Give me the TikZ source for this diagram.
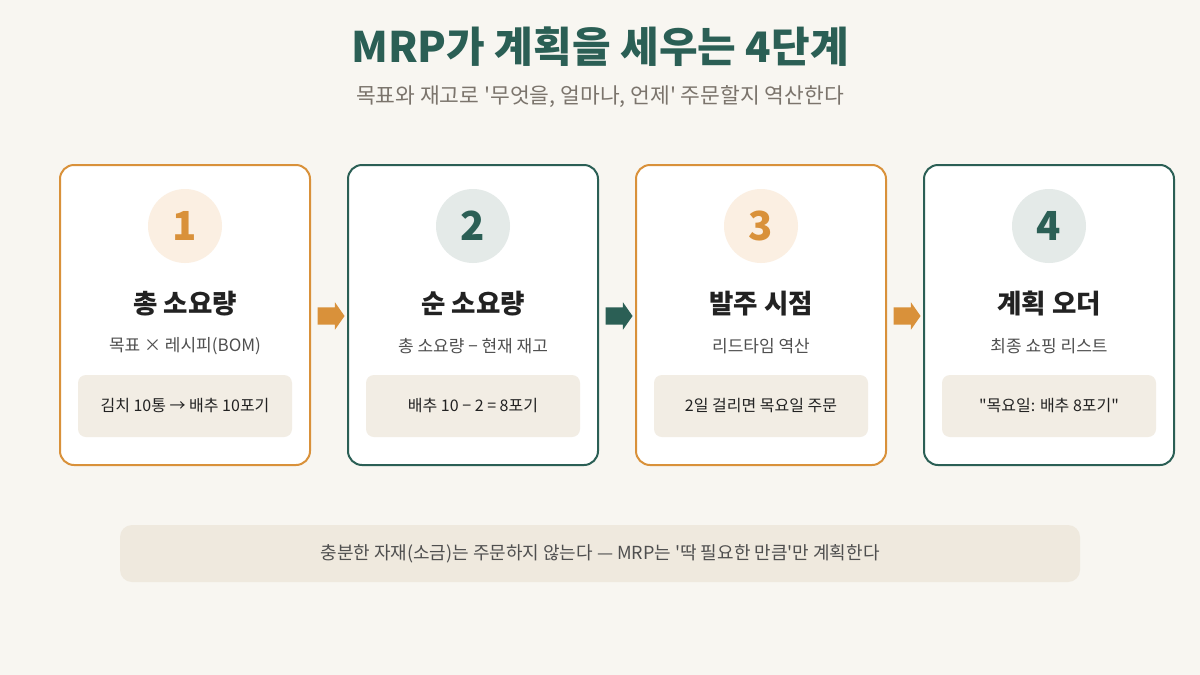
\documentclass[tikz,border=0pt]{standalone}
\usepackage{fontspec}
\setmainfont{Noto Sans CJK KR}[Ligatures=TeXOff]
\usetikzlibrary{shapes.arrows}
\definecolor{paper}{HTML}{F8F6F1}
\definecolor{amber}{HTML}{D9913A}
\definecolor{amberlight}{HTML}{FBEFE2}
\definecolor{pine}{HTML}{2B5F55}
\definecolor{pinelight}{HTML}{E4EAE8}
\definecolor{boxtan}{HTML}{F2EDE4}
\definecolor{bandtan}{HTML}{EFE9DE}
\definecolor{inkdark}{HTML}{222222}
\definecolor{inkgrey}{HTML}{4F4F4F}
\definecolor{inksoft}{HTML}{7B746C}
\begin{document}
\begin{tikzpicture}[x=1pt, y=-1pt,
    card/.style={draw, line width=2pt, rounded corners=14pt, fill=white, minimum width=250pt, minimum height=300pt},
    badge/.style={circle, inner sep=0pt, minimum size=74pt, font=\fontsize{40}{44}\selectfont\bfseries},
    cardtitle/.style={inner sep=0pt, text=inkdark, font=\fontsize{26.5}{30}\selectfont\bfseries},
    cardsub/.style={inner sep=0pt, text=inkgrey, font=\fontsize{17}{20}\selectfont},
    samplebox/.style={fill=boxtan, rounded corners=8pt, minimum width=214pt, minimum height=62pt, text=inkdark, font=\fontsize{16}{19}\selectfont},
    stepgo/.style={single arrow, inner sep=8.5pt, minimum width=27pt, minimum height=27pt, single arrow head extend=5pt, single arrow tip angle=110}]
    \fill[paper] (0,0) rectangle (1200,675);
    \useasboundingbox (0,0) rectangle (1200,675);

    \node[inner sep=0pt, text=pine, font=\fontsize{42}{48}\selectfont\bfseries] (title) at (600,47) {MRP가 계획을 세우는 4단계};
    \node[inner sep=0pt, text=inksoft, font=\fontsize{21.5}{25}\selectfont] (subtitle) at (600,97) {목표와 재고로 '무엇을, 얼마나, 언제' 주문할지 역산한다};

    \node[card, draw=amber] (c1) at (185,315) {};
    \node[card, draw=pine] (c2) at (473,315) {};
    \node[card, draw=amber] (c3) at (761,315) {};
    \node[card, draw=pine] (c4) at (1049,315) {};

    \node[badge, fill=amberlight, text=amber] (b1) at (185,226) {1};
    \node[badge, fill=pinelight, text=pine] (b2) at (473,226) {2};
    \node[badge, fill=amberlight, text=amber] (b3) at (761,226) {3};
    \node[badge, fill=pinelight, text=pine] (b4) at (1049,226) {4};

    \node[cardtitle] (t1) at (185,304) {총 소요량};
    \node[cardtitle] (t2) at (473,304) {순 소요량};
    \node[cardtitle] (t3) at (761,304) {발주 시점};
    \node[cardtitle] (t4) at (1049,304) {계획 오더};

    \node[cardsub] (s1) at (185,346) {목표 × 레시피(BOM)};
    \node[cardsub] (s2) at (473,346) {총 소요량 − 현재 재고};
    \node[cardsub] (s3) at (761,346) {리드타임 역산};
    \node[cardsub] (s4) at (1049,346) {최종 쇼핑 리스트};

    \node[samplebox] (e1) at (185,406) {김치 10통 → 배추 10포기};
    \node[samplebox] (e2) at (473,406) {배추 10 − 2 = 8포기};
    \node[samplebox] (e3) at (761,406) {2일 걸리면 목요일 주문};
    \node[samplebox] (e4) at (1049,406) {"목요일: 배추 8포기"};

    \node[stepgo, fill=amber] (a12) at (328,316) {};
    \node[stepgo, fill=pine] (a23) at (616,316) {};
    \node[stepgo, fill=amber] (a34) at (904,316) {};

    \node[fill=bandtan, rounded corners=12pt, minimum width=960pt, minimum height=57pt, text=inkgrey, font=\fontsize{18}{21}\selectfont] (note) at (600,553.5) {충분한 자재(소금)는 주문하지 않는다 — MRP는 '딱 필요한 만큼'만 계획한다};
\end{tikzpicture}
\end{document}
